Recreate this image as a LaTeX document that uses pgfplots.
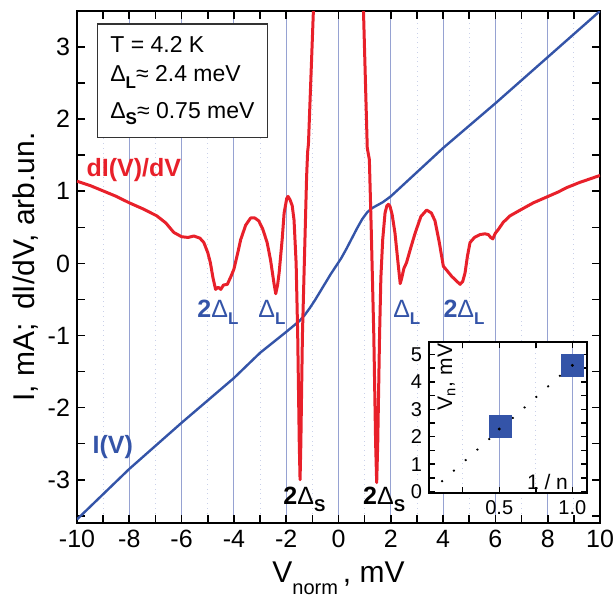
\documentclass[border=0pt]{standalone}
\usepackage{pgfplots}
\pgfplotsset{compat=1.18}
\usepackage{fontspec}
\setmainfont{Liberation Sans}
\definecolor{CurveRed}{RGB}{232,32,42}
\definecolor{CurveBlue}{RGB}{52,84,168}
\definecolor{GridBlue}{RGB}{150,162,210}
\newcommand{\sub}[1]{\raisebox{-0.55ex}{\fontsize{8.5}{9}\selectfont\bfseries #1}}
\begin{document}
\begin{tikzpicture}
\path[use as bounding box] (-38.5pt,-38.5pt) rectangle (268.5pt,261.5pt);
\begin{axis}[
  scale only axis, width=261.5pt, height=256pt,
  xmin=-10, xmax=10, ymin=-3.6, ymax=3.5,
  xtick={-10,-8,...,10}, ytick={-3,...,3},
  minor xtick={-9,-7,...,9}, minor ytick={-3.5,-2.5,...,3.5},
  xmajorgrids, xminorgrids,
  major grid style={GridBlue, line width=0.5pt},
  minor grid style={GridBlue!50, dotted, line width=0.4pt},
  axis line style={line width=1pt},
  tick style={black, line width=0.8pt},
  major tick length=4pt, minor tick length=4pt,
  tick align=inside,
  /pgf/number format/assume math mode=true,
  tick label style={font=\fontsize{12.5}{14}\selectfont},
  xlabel={V\raisebox{-0.8ex}{\fontsize{10}{12}\selectfont norm}\,, mV},
  ylabel={I, mA;\, dI/dV, arb.un.},
  label style={font=\fontsize{15}{17}\selectfont},
  ylabel style={yshift=-2pt},
]
\addplot[CurveBlue, line width=1.2pt, line join=round] coordinates {
(-10,-3.55)(-8,-2.85)(-6,-2.21)(-4,-1.59)(-3,-1.24)(-2,-0.95)
(-1.7,-0.86)(-1.5,-0.80)(-1.3,-0.72)(-1.1,-0.62)(-0.9,-0.51)(-0.7,-0.39)
(-0.5,-0.27)(-0.3,-0.15)(-0.1,-0.04)(0.1,0.07)(0.3,0.2)(0.5,0.34)(0.7,0.48)
(0.9,0.61)(1.1,0.71)(1.3,0.77)(1.5,0.81)(1.7,0.85)(2,0.93)
(4,1.6)(6,2.22)(8,2.86)(10,3.5)};
\addplot[CurveRed, line width=1.5pt, line join=round] coordinates {
(-10,1.14)(-9.5,1.08)(-9.1,1.02)(-8.5,0.93)(-8.0,0.84)(-7.5,0.76)(-6.95,0.66)
(-6.6,0.56)(-6.3,0.43)(-6.0,0.37)(-5.75,0.36)(-5.53,0.38)(-5.3,0.35)(-5.15,0.29)
(-5.0,0.15)(-4.9,0.01)(-4.8,-0.2)(-4.7,-0.36)(-4.6,-0.33)(-4.5,-0.36)(-4.4,-0.3)
(-4.25,-0.29)(-4.1,-0.17)(-4.0,-0.08)(-3.85,0.15)(-3.74,0.33)(-3.55,0.53)
(-3.36,0.63)(-3.2,0.63)(-3.05,0.59)(-2.9,0.48)(-2.73,0.29)(-2.6,0.05)
(-2.47,-0.27)(-2.4,-0.42)(-2.33,-0.3)(-2.27,-0.13)(-2.15,0.35)(-2.08,0.7)
(-1.98,0.9)(-1.93,0.93)(-1.85,0.88)(-1.77,0.8)(-1.7,0.6)(-1.62,0.0)
(-1.56,-1.0)(-1.5,-2.5)(-1.47,-3.0)(-1.44,-2.5)(-1.38,-1.0)(-1.3,0.1)
(-1.22,1.2)(-1.18,1.55)(-1.15,1.65)(-0.94,3.7)(0.94,3.7)(1.1,1.6)(1.18,1.44)
(1.25,0.5)(1.35,-1.0)(1.42,-2.5)(1.46,-3.04)(1.5,-2.5)(1.57,-1.0)(1.62,-0.2)
(1.69,0.33)(1.78,0.7)(1.85,0.8)(1.91,0.82)(1.97,0.79)(2.05,0.68)(2.16,0.42)
(2.29,-0.04)(2.36,-0.28)(2.42,-0.2)(2.5,-0.07)(2.6,0.01)(2.75,0.2)(2.93,0.42)
(3.15,0.65)(3.37,0.74)(3.55,0.7)(3.69,0.59)(3.85,0.3)(4.01,-0.04)(4.15,-0.1)
(4.33,-0.18)(4.5,-0.24)(4.65,-0.29)(4.75,-0.25)(4.84,-0.13)(4.93,0.1)
(5.03,0.29)(5.2,0.36)(5.41,0.40)(5.6,0.41)(5.73,0.40)(5.82,0.36)(5.9,0.34)
(6.0,0.42)(6.11,0.47)(6.3,0.57)(6.56,0.66)(7.0,0.75)(7.45,0.84)(8.02,0.93)
(8.4,0.99)(8.72,1.05)(9.2,1.12)(9.6,1.17)(10,1.22)};
% text box
\draw[line width=0.6pt, black!80, fill=white] (axis cs:-9.23,3.32) rectangle (axis cs:-2.7,1.75);
\begin{scope}[every node/.style={anchor=west, inner sep=0pt, font=\fontsize{11.5}{13}\selectfont}]
\node at (axis cs:-8.74,3.03) {T = 4.2 K};
\node at (axis cs:-8.74,2.59) {Δ\sub{L}≈ 2.4 meV};
\node at (axis cs:-8.74,2.08) {Δ\sub{S}≈ 0.75 meV};
\end{scope}
\begin{scope}[every node/.style={anchor=west, inner sep=0pt, font=\fontsize{12.5}{14}\selectfont}]
\node[CurveRed] at (axis cs:-9.65,1.30) {\bfseries dI(V)/dV};
\node[CurveBlue] at (axis cs:-9.42,-2.55) {\bfseries I(V)};
\node[CurveBlue] at (axis cs:-5.41,-0.68) {\textbf{2}Δ\sub{L}};
\node[CurveBlue] at (axis cs:-3.08,-0.68) {Δ\sub{L}};
\node[CurveBlue] at (axis cs:2.08,-0.68) {Δ\sub{L}};
\node[CurveBlue] at (axis cs:4.0,-0.68) {\textbf{2}Δ\sub{L}};
\node at (axis cs:-2.12,-3.27) {\textbf{2}Δ\sub{S}};
\node at (axis cs:0.93,-3.27) {\textbf{2}Δ\sub{S}};
\end{scope}
\end{axis}
\begin{axis}[
  at={(176pt,15pt)}, anchor=south west,
  scale only axis, width=79pt, height=75.5pt,
  xmin=0.02, xmax=1.1, ymin=-0.05, ymax=5.45,
  xtick={0.5,1.0}, minor xtick={0.25,0.75},
  ytick={0,...,5}, minor ytick={0.5,1.5,...,4.5},
  xmajorgrids, xminorgrids,
  major grid style={GridBlue, line width=0.5pt},
  minor grid style={GridBlue!50, dotted, line width=0.4pt},
  axis background/.style={fill=white},
  axis line style={line width=1pt},
  tick style={black, line width=0.7pt},
  major tick length=3pt, minor tick length=3pt,
  tick align=inside,
  /pgf/number format/assume math mode=true,
  xticklabel style={/pgf/number format/.cd, fixed, fixed zerofill, precision=1},
  tick label style={font=\fontsize{10}{12}\selectfont},
]
\addplot[black, line width=0.9pt, dash pattern=on 0.9pt off 7pt] coordinates {(0.105,0.36)(0.995,4.6)};
\addplot[only marks, mark=square*, mark size=5.5pt, CurveBlue] coordinates {(0.51,2.39)(1.0,4.6)};
\addplot[only marks, mark=*, mark size=0.5pt, black] coordinates {(0.5,2.28)(1.0,4.6)};
\node[rotate=90, font=\fontsize{10.5}{12}\selectfont] at (axis cs:0.14,4.17) {V\textsubscript{n}, mV};
\node[font=\fontsize{10.5}{12}\selectfont] at (axis cs:0.83,0.36) {1 / n};
\end{axis}
\end{tikzpicture}
\end{document}
